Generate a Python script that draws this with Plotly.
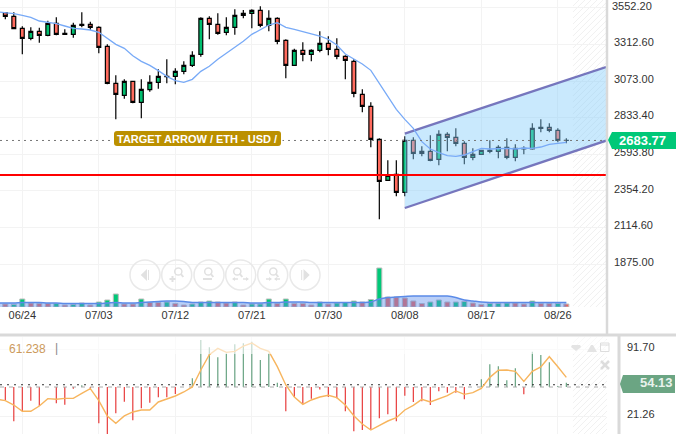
import pandas as pd
import plotly.graph_objects as go

W, H = 676, 434

# ---------- data ----------
candle_dates = pd.date_range("2024-06-22", "2024-08-27", freq="D")
line_dates = pd.date_range("2024-06-21", "2024-08-27", freq="D")

opens = [3520.4,3496.4,3417.8,3352.4,3398.2,3372.0,3450.6,3385.1,3378.6,3444.0,3444.0,3424.4,3300.0,3057.8,2979.2,3070.9,2933.4,3016.3,3064.3,3103.6,3103.6,3136.4,3175.6,3247.6,3483.3,3444.0,3391.6,3424.4,3502.9,3516.0,3535.7,3437.5,3483.3,3339.3,3175.6,3273.8,3247.6,3273.8,3319.6,3280.4,3234.5,3201.8,2985.8,2907.2,2691.2,2422.8,2462.1,2344.3,2684.7,2599.6,2612.7,2560.3,2724.0,2704.3,2665.0,2573.4,2593.0,2619.2,2612.7,2638.8,2573.4,2627.9,2627.9,2763.2,2769.8,2750.1,2684.7]
highs = [3524.7,3522.6,3430.9,3424.4,3422.2,3468.0,3489.8,3411.3,3454.9,3522.6,3461.5,3430.9,3313.1,3110.2,3084.0,3070.9,3084.0,3110.2,3149.4,3214.9,3156.0,3201.8,3267.3,3489.8,3496.4,3516.0,3489.8,3542.2,3537.8,3542.2,3561.8,3535.7,3489.8,3345.8,3284.7,3326.2,3280.4,3398.2,3365.5,3352.4,3241.1,3214.9,3018.5,2933.4,2697.8,2553.8,2553.8,2710.9,2704.3,2645.4,2717.4,2750.1,2737.0,2763.2,2678.1,2632.3,2619.2,2684.7,2651.9,2697.8,2658.5,2645.4,2795.9,2822.1,2795.9,2763.2,2697.8]
lows = [3476.7,3411.3,3247.6,3339.3,3324.0,3365.5,3372.0,3378.6,3356.7,3424.4,3406.9,3254.2,3051.3,2822.1,2957.4,2926.9,2828.7,3003.3,3022.9,3057.8,3051.3,3116.7,3164.7,3232.4,3345.8,3376.4,3372.0,3376.4,3483.3,3417.8,3424.4,3398.2,3313.1,3090.5,3175.6,3201.8,3201.8,3260.7,3241.1,3214.9,3084.0,2966.2,2867.9,2638.8,2167.6,2422.8,2318.1,2318.1,2560.3,2579.9,2547.2,2521.0,2612.7,2645.4,2527.6,2553.8,2593.0,2599.6,2566.9,2560.3,2547.2,2593.0,2623.6,2737.0,2737.0,2671.6,2665.0]
closes = [3496.4,3415.7,3352.4,3398.2,3372.0,3450.6,3378.6,3378.6,3437.5,3437.5,3424.4,3293.5,3057.8,2985.8,3070.9,2933.4,3018.5,3064.3,3103.6,3101.5,3136.4,3175.6,3241.1,3483.3,3444.0,3385.1,3424.4,3502.9,3516.0,3535.7,3437.5,3483.3,3332.7,3175.6,3273.8,3247.6,3273.8,3319.6,3280.4,3234.5,3208.4,2992.3,2907.2,2691.2,2416.3,2455.6,2344.3,2684.7,2599.6,2612.7,2553.8,2724.0,2704.3,2665.0,2573.4,2593.0,2619.2,2612.7,2638.8,2573.4,2632.3,2632.3,2763.2,2769.8,2750.1,2684.7,2683.77]

price_ma = [3526.9,3522.6,3513.8,3502.9,3489.8,3465.8,3457.1,3448.4,3433.1,3417.8,3413.5,3406.9,3391.6,3352.4,3313.1,3286.9,3238.9,3201.8,3175.6,3140.7,3103.6,3075.3,3064.3,3084.0,3136.4,3169.1,3214.9,3254.2,3293.5,3332.7,3378.6,3411.3,3439.6,3454.9,3424.4,3411.3,3398.2,3385.1,3367.6,3345.8,3308.7,3249.8,3219.3,3184.4,3142.9,3057.8,2970.5,2887.6,2822.1,2763.2,2676.0,2627.9,2603.9,2584.3,2579.9,2588.6,2610.5,2632.3,2627.9,2632.3,2632.3,2627.9,2634.5,2632.3,2641.0,2658.5,2665.0,2671.6]

volume = [30,25,80,40,35,35,35,20,25,40,20,50,70,130,30,30,80,45,45,50,35,20,30,50,60,50,40,50,20,30,30,80,35,80,35,35,20,50,30,40,45,60,50,75,390,100,100,90,60,35,50,70,50,50,55,40,25,35,35,40,40,30,60,35,35,35,30]
volume_dir = ["d","g","g","d","d","d","g","d","g","g","d","g","g","g","d","d","g","d","d","g","d","d","g","g","g","d","d","g","d","g","g","g","d","g","d","d","d","g","d","g",
              "g","g","d","g","g","d","d","d","d","d","g","g","d","g","g","d","d","g","g","g","d","d","g","d","d","g","d"]
volume_ma = [40,40,40,45,45,45,40,40,35,35,35,35,35,40,45,40,40,45,50,55,60,60,55,45,45,45,45,45,45,45,40,40,45,45,50,50,50,45,45,45,45,45,45,45,50,80,95,100,105,110,110,110,110,110,95,70,60,50,45,45,45,45,45,45,45,45,45,45]

osc_line = [38.8,37.4,32.8,26.2,26.2,31.8,39.5,38.8,39.8,39.8,45.1,50.0,37.4,21.3,13.6,21.3,25.5,27.6,27.6,36.0,39.1,42.3,46.5,51.8,69.6,85.7,92.4,88.2,89.2,94.8,98.0,92.4,89.2,73.1,53.9,41.2,33.5,38.1,41.2,43.0,40.5,32.8,21.6,12.9,6.5,11.1,16.0,19.5,27.6,32.5,38.8,36.0,39.1,42.6,47.6,44.0,45.8,50.3,61.9,69.3,69.6,68.2,57.7,68.2,72.8,83.6,73.1,61.9]
osc_base = 51.75
osc_tips = [38.1,15.7,26.2,37.4,31.8,51.75,34.6,33.2,50.0,53.5,50.0,13.6,2.3,24.1,36.3,16.7,29.3,35.3,40.9,40.9,44.4,51.75,60.9,101.2,93.5,82.9,87.1,96.6,97.7,99.4,80.1,87.1,56.3,26.2,41.2,33.9,39.5,49.0,41.2,39.8,26.2,5.1,6.5,6.5,18.8,23.0,15.7,42.6,36.0,36.7,32.8,47.2,45.8,45.8,38.8,51.75,59.8,75.6,73.5,58.8,71.4,44.0,88.9,85.4,77.7,52.8,56.3]

channel_x = ["2024-08-08", "2024-08-31 16:00"]
channel_top = [2728.1, 3164.7]
channel_bottom = [2241.7, 2682.3]
support_level = 2457.7
last_price = 2683.77
last_osc = 54.13

price_ticks = [3552.20,3312.60,3073.00,2833.40,2593.80,2354.20,2114.60,1875.00]
osc_ticks = [91.70,21.26]
date_ticks = ["2024-06-24","2024-07-03","2024-07-12","2024-07-21","2024-07-30","2024-08-08","2024-08-17","2024-08-26"]
x_range = ["2024-06-21 09:01", "2024-08-31 16:00"]

FONT = "Liberation Sans"
GRID = "#f3f3f3"

# ---------- helpers: pixel to paper ----------
def px(x): return x / W
def py(y): return 1 - y / H
def P(x, y): return f"{px(x):.5f},{py(y):.5f}"

def path(d, fill=None, line=None, width=1, layer="above"):
    s = dict(type="path", path=d, xref="paper", yref="paper", layer=layer,
             line=dict(width=width if line else 0, color=line or "rgba(0,0,0,0)"))
    if fill:
        s["fillcolor"] = fill
    return s

def seg(x0, y0, x1, y1, color, width=1, dash="solid", layer="above"):
    return dict(type="line", xref="paper", yref="paper", x0=px(x0), x1=px(x1), y0=py(y0), y1=py(y1),
                line=dict(color=color, width=width, dash=dash), layer=layer)

def circ(cx, cy, r, color, width=1, fill=None):
    d = dict(type="circle", xref="paper", yref="paper", x0=px(cx-r), x1=px(cx+r), y0=py(cy+r), y1=py(cy-r),
             line=dict(color=color, width=width), layer="above")
    if fill:
        d["fillcolor"] = fill
    return d

def hatch(x0, y0, x1, y1, step=6, color="#f1f1f1"):
    d, h = [], y1 - y0
    c = x0 + step
    while c < x1 + h:
        ax, ay = c - h, y1
        bx, by = c, y0
        if ax < x0:
            ay -= (x0 - ax); ax = x0
        if bx > x1:
            by += (bx - x1); bx = x1
        d.append(f"M{P(ax, ay)} L{P(bx, by)}")
        c += step
    return path(" ".join(d), line=color, width=1, layer="below")

fig = go.Figure()

# volume (on its own overlaid axis)
vol_cols = ["#00c878" if s == "g" else "#f0645a" for s in volume_dir]
fig.add_trace(go.Bar(x=candle_dates, y=volume, width=50800000, marker=dict(color=vol_cols, line=dict(color="#bdbdbd", width=1)),
                     xaxis="x", yaxis="y3"))
fig.add_trace(go.Scatter(x=line_dates, y=volume_ma, mode="lines", line=dict(color="#5b8be8", width=1.5, shape="spline"),
                         fill="tozeroy", fillcolor="rgba(90,140,235,0.42)", xaxis="x", yaxis="y3"))

# candles
fig.add_trace(go.Candlestick(x=candle_dates, open=opens, high=highs, low=lows, close=closes, whiskerwidth=0,
                             increasing=dict(line=dict(color="#000000", width=1.2), fillcolor="#00bf6f"),
                             decreasing=dict(line=dict(color="#000000", width=1.2), fillcolor="#ff6b5e"),
                             xaxis="x", yaxis="y"))
# channel
fig.add_trace(go.Scatter(x=channel_x + channel_x[::-1], y=channel_top + channel_bottom[::-1], mode="lines", line=dict(width=0),
                         fill="toself", fillcolor="rgba(135,206,250,0.45)", xaxis="x", yaxis="y"))
for edge in (channel_top, channel_bottom):
    fig.add_trace(go.Scatter(x=channel_x, y=edge, mode="lines", line=dict(color="#7676bd", width=2.3), xaxis="x", yaxis="y"))
# moving average
fig.add_trace(go.Scatter(x=line_dates, y=price_ma, mode="lines", line=dict(color="#78aaf7", width=1.3), xaxis="x", yaxis="y"))
# levels
fig.add_trace(go.Scatter(x=x_range, y=[support_level]*2, mode="lines", line=dict(color="#ff0000", width=2), xaxis="x", yaxis="y"))
fig.add_trace(go.Scatter(x=x_range, y=[last_price]*2, mode="lines", line=dict(color="#777777", width=1, dash="2px 4px"), xaxis="x", yaxis="y"))

# oscillator
osc_vals = [t - osc_base for t in osc_tips]
osc_cols = ["rgba(92,156,120,0.99)" if v >= 0 else "rgba(230,46,46,0.99)" for v in osc_vals]
fig.add_trace(go.Bar(x=candle_dates, y=osc_vals, base=osc_base, width=11500000, marker=dict(color=osc_cols, line=dict(width=0)),
                     xaxis="x2", yaxis="y2"))
fig.add_trace(go.Scatter(x=x_range, y=[osc_base]*2, mode="lines", line=dict(color="#aaaaaa", width=1, dash="4px 5px"), xaxis="x2", yaxis="y2"))
fig.add_trace(go.Scatter(x=x_range, y=[last_osc]*2, mode="lines", line=dict(color="#333333", width=1, dash="2px 5px"), xaxis="x2", yaxis="y2"))
fig.add_trace(go.Scatter(x=line_dates, y=osc_line, mode="lines", line=dict(color="#f7b55e", width=1.4), xaxis="x2", yaxis="y2"))

# ---------- furniture ----------
shapes = [hatch(573, 0, 606, 307), hatch(573, 337, 607, 434)]

# panel borders
shapes += [seg(607, 0, 607, 335, "#d9d9d9", 2.5), seg(0, 335, W, 335, "#d9d9d9", 3), seg(619, 335, 619, H, "#d9d9d9", 3)]

# target label
def rrect(x0, y0, x1, y1, r):
    return (f"M{P(x0+r,y0)} L{P(x1-r,y0)} Q{P(x1,y0)} {P(x1,y0+r)} L{P(x1,y1-r)} Q{P(x1,y1)} {P(x1-r,y1)} "
            f"L{P(x0+r,y1)} Q{P(x0,y1)} {P(x0,y1-r)} L{P(x0,y0+r)} Q{P(x0,y0)} {P(x0+r,y0)} Z")
shapes.append(path(rrect(114, 131, 281, 146, 3), fill="#bb9000", line="#ffffff", width=3))
shapes.append(path(rrect(114, 131, 281, 146, 3), fill="#bb9000"))

# price tags
shapes.append(path(f"M{P(608,140)} L{P(612,132)} L{P(676,132)} L{P(676,149)} L{P(612,149)} Z", fill="#00c878"))
shapes.append(path(f"M{P(620,384)} L{P(623,375)} L{P(675,375)} L{P(675,393)} L{P(623,393)} Z", fill="#6ba583"))

# navigation buttons
ic = "#e1e1e1"
for cx in (145, 176.7, 209, 240.7, 272.7, 305):
    shapes.append(circ(cx, 275, 15, "#e9e9e9", 1.5))
shapes.append(path(f"M{P(140.7,275)} L{P(147,269)} L{P(147,281)} Z", fill=ic))
shapes.append(seg(148.5, 270, 148.5, 280, ic, 1))
shapes.append(path(f"M{P(309.7,275)} L{P(303.5,269)} L{P(303.5,281)} Z", fill=ic))
shapes.append(seg(301.7, 270, 301.7, 280, ic, 1))
for mx in (178.3, 208.3, 237.3, 273.3):
    shapes.append(circ(mx, 271.5, 3.6, ic, 1.5))
    shapes.append(seg(mx+2.6, 274, mx+5, 277, ic, 2))
shapes += [seg(169.5, 279, 175.5, 279, ic, 2), seg(172.5, 276, 172.5, 282, ic, 2)]
shapes.append(seg(203, 279, 212, 279, ic, 2))
shapes += [seg(233, 279, 238, 279, ic, 1.5), seg(243, 279, 248, 279, ic, 1.5)]
shapes += [path(f"M{P(232,279)} L{P(235,277)} L{P(235,281)} Z", fill=ic), path(f"M{P(249,279)} L{P(246,277)} L{P(246,281)} Z", fill=ic)]
shapes += [seg(266, 279, 271, 279, ic, 1.5), seg(275, 279, 280, 279, ic, 1.5)]
shapes += [path(f"M{P(272,279)} L{P(269,277)} L{P(269,281)} Z", fill=ic), path(f"M{P(274,279)} L{P(277,277)} L{P(277,281)} Z", fill=ic)]

# faded band at the top of the oscillator
shapes.append(dict(type="rect", xref="paper", yref="paper", x0=0, x1=px(606), y0=py(354), y1=py(337),
                   fillcolor="rgba(255,255,255,0.6)", line=dict(width=0), layer="above"))

# oscillator icons
shapes.append(path(f"M{P(572,345)} L{P(580,345)} L{P(581,347)} L{P(576,351)} L{P(571,347)} Z", fill="#e4e4e4"))
shapes.append(path(f"M{P(587,352)} L{P(591,345)} L{P(593,345)} L{P(597,352)} Z", fill="#e4e4e4"))
shapes.append(dict(type="rect", xref="paper", yref="paper", x0=px(600.5), x1=px(609), y0=py(351.5), y1=py(343),
                   line=dict(color="#dddddd", width=1), layer="above"))
shapes.append(seg(600.5, 345, 609, 345, "#dddddd", 1))
shapes += [seg(601, 361, 609, 369, "#dddddd", 2.5), seg(609, 361, 601, 369, "#dddddd", 2.5)]

annotations = [
    dict(text="TARGET ARROW / ETH - USD /", x=px(197), y=py(138.5), xref="paper", yref="paper", showarrow=False,
         xanchor="center", yanchor="middle", font=dict(family=FONT, size=11, color="#ffffff", weight="bold")),
    dict(text="2683.77", x=px(642), y=py(140.5), xref="paper", yref="paper", showarrow=False,
         xanchor="center", yanchor="middle", font=dict(family=FONT, size=13, color="#ffffff", weight="bold")),
    dict(text="54.13", x=px(656), y=py(382.5), xref="paper", yref="paper", showarrow=False,
         xanchor="center", yanchor="middle", font=dict(family=FONT, size=13, color="#e8f2ec", weight="bold")),
    dict(text="61.238", x=px(7), y=py(349), xref="paper", yref="paper", showarrow=False,
         xanchor="left", yanchor="middle", font=dict(family=FONT, size=12, color="#cc9a5c")),
    dict(text="|", x=px(53), y=py(348), xref="paper", yref="paper", showarrow=False,
         xanchor="left", yanchor="middle", font=dict(family=FONT, size=12, color="#888888")),
    dict(text=f"{price_ticks[0]:.2f}", x=px(613), y=price_ticks[0], xref="paper", yref="y", yshift=2, showarrow=False,
         xanchor="left", yanchor="middle", xshift=-3, font=dict(family=FONT, size=11, color="#333333")),
]

price_tick_text = [""] + [f"{t:.2f}" for t in price_ticks[1:]]

fig.update_layout(
    width=W, height=H, margin=dict(l=0, r=0, t=0, b=0), paper_bgcolor="#ffffff", plot_bgcolor="#ffffff",
    showlegend=False, barmode="overlay", shapes=shapes, annotations=annotations,
    boxgap=0.35,
    font=dict(family=FONT, size=11, color="#333333"),
    xaxis=dict(type="date", domain=[0, 606/W], range=x_range, anchor="y", rangeslider=dict(visible=False),
               tickmode="array", tickvals=date_ticks, tickformat="%m/%d", showgrid=True, gridcolor=GRID, gridwidth=1,
               zeroline=False, showline=False, ticks="", tickfont=dict(family=FONT, size=11, color="#333333")),
    yaxis=dict(domain=[1-307/H, 1], range=[3603.3-6.546*307, 3603.3], anchor="x", side="right",
               tickmode="array", tickvals=price_ticks, ticktext=price_tick_text,
               showgrid=True, gridcolor=GRID, gridwidth=1, zeroline=False, showline=False, ticks="",
               ticklabelstandoff=7, ticklabelshift=-2, tickfont=dict(family=FONT, size=11, color="#333333")),
    yaxis3=dict(domain=[1-307/H, 1], range=[0, 3070], overlaying="y", anchor="x", visible=False, showgrid=False),
    xaxis2=dict(type="date", domain=[0, 606/W], range=x_range, anchor="y2", tickmode="array", tickvals=date_ticks,
                showticklabels=False, showgrid=True, gridcolor=GRID, gridwidth=1, zeroline=False, showline=False, ticks=""),
    yaxis2=dict(domain=[0, 97/H], range=[91.7-85*1.0513, 91.7+12*1.0513], anchor="x2", side="right",
                tickmode="array", tickvals=osc_ticks, ticktext=[f"{t:.2f}" for t in osc_ticks],
                showgrid=True, gridcolor=GRID, gridwidth=1, zeroline=False, showline=False, ticks="",
                ticklabelstandoff=20, ticklabelshift=-2, tickfont=dict(family=FONT, size=11, color="#333333")),
)

fig.write_html("out.html", config={"displayModeBar": False},
               post_script="document.body.style.margin='0';document.body.style.overflow='hidden';")
